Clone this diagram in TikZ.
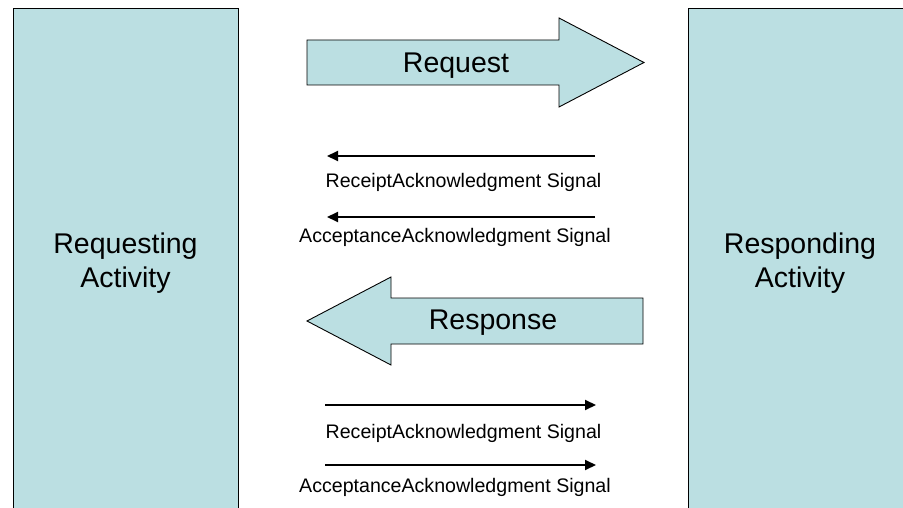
\documentclass[tikz,border=0pt]{standalone}
\usepackage{fontspec}
\setmainfont{Liberation Sans}
\usetikzlibrary{arrows.meta}
\definecolor{actfill}{RGB}{187,223,226}
\begin{document}
\begin{tikzpicture}[x=1pt,y=-1pt,
  activity/.style={draw=black, line width=1pt, fill=actfill,
    minimum width=225pt, minimum height=508pt, inner sep=0pt,
    align=center, font=\fontsize{28.5}{34}\selectfont},
  bigarrow/.style={draw=black, line width=0.9pt, fill=actfill, line join=miter},
  biglabel/.style={font=\fontsize{28.5}{34}\selectfont, anchor=base, inner sep=0pt},
  signal/.style={line width=2pt, -{Triangle[length=11pt,width=10pt]}},
  siglabel/.style={font=\fontsize{19.6}{23}\selectfont, anchor=base, inner sep=0pt}]
\useasboundingbox (0,0) rectangle (903,508);
\clip (0,0) rectangle (903,508);

% the two activities (they run past the lower edge)
\node[activity] (requester) at (125.5,262.8) {Requesting\\Activity};
\node[activity, minimum width=224pt] (responder) at (800,262.8) {Responding\\Activity};

% request message
\draw[bigarrow] (307,40) -- (559,40) -- (559,18) -- (644,62.5) -- (559,107)
  -- (559,85) -- (307,85) -- cycle;
\node[biglabel] (request) at (456,73) {Request};

% acknowledgment signals back to the requester
\coordinate (rs1) at (595,156);  \coordinate (re1) at (327,156);
\coordinate (rs2) at (595,217);  \coordinate (re2) at (327,217);
\draw[signal] (rs1) -- (re1);
\draw[signal] (rs2) -- (re2);
\node[siglabel] (receipt1) at (463.5,188) {ReceiptAcknowledgment Signal};
\node[siglabel] (accept1) at (455,242) {AcceptanceAcknowledgment Signal};

% response message
\draw[bigarrow] (643,298) -- (391,298) -- (391,277) -- (307,321) -- (391,365)
  -- (391,344) -- (643,344) -- cycle;
\node[biglabel] (response) at (493,329) {Response};

% acknowledgment signals back to the responder
\coordinate (ss1) at (325,405);  \coordinate (se1) at (596,405);
\coordinate (ss2) at (325,465);  \coordinate (se2) at (596,465);
\draw[signal] (ss1) -- (se1);
\draw[signal] (ss2) -- (se2);
\node[siglabel] (receipt2) at (463.5,438) {ReceiptAcknowledgment Signal};
\node[siglabel] (accept2) at (455,492) {AcceptanceAcknowledgment Signal};
\end{tikzpicture}
\end{document}
